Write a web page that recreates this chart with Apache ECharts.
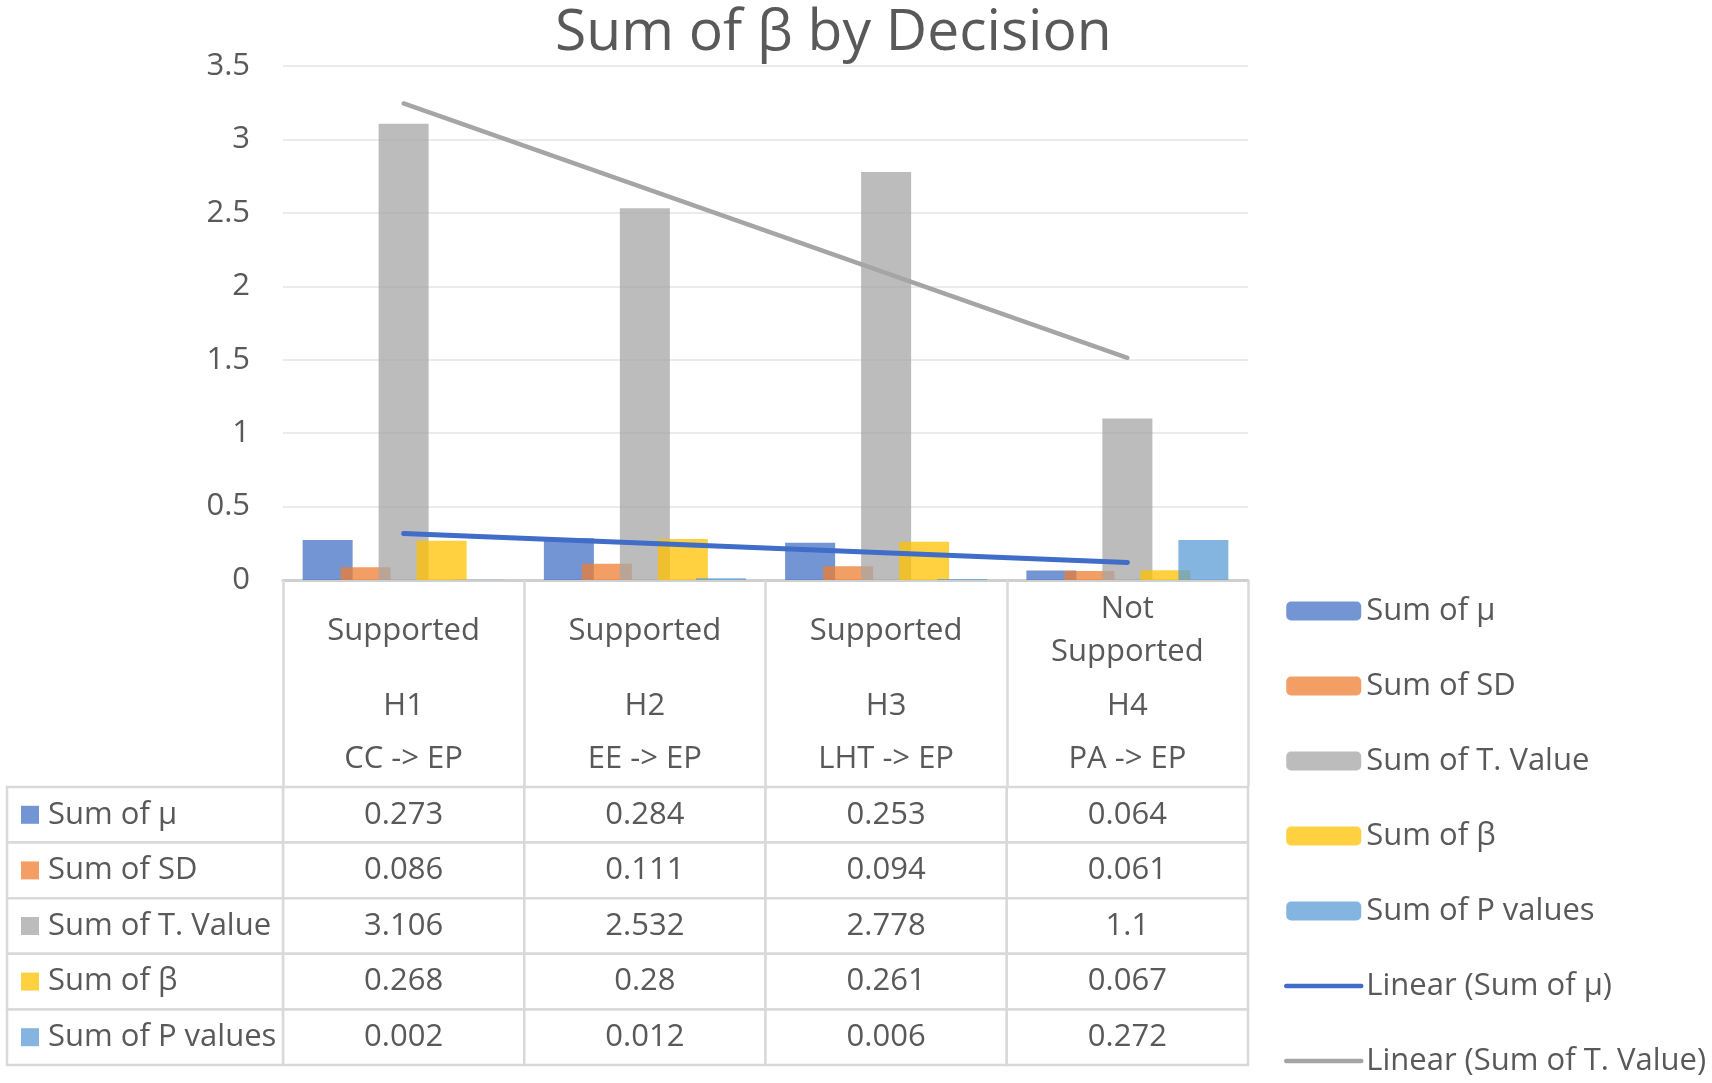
<!DOCTYPE html>
<html>
<head>
<meta charset="utf-8">
<script src="https://cdn.jsdelivr.net/npm/echarts@6/dist/echarts.min.js"></script>
<style>
  html, body { margin: 0; padding: 0; background: #fff; }
  #main { width: 1712px; height: 1083px; }
</style>
</head>
<body>
<div id="main"></div>
<script>
  // data
  var categories = ["H1", "H2", "H3", "H4"];
  var decisions = ["Supported", "Supported", "Supported", "Not Supported"];
  var paths = ["CC -> EP", "EE -> EP", "LHT -> EP", "PA -> EP"];
  var sumMu = [0.273, 0.284, 0.253, 0.064];
  var sumSD = [0.086, 0.111, 0.094, 0.061];
  var sumT = [3.106, 2.532, 2.778, 1.1];
  var sumBeta = [0.268, 0.28, 0.261, 0.067];
  var sumP = [0.002, 0.012, 0.006, 0.272];
  // trendline end points (Excel linear trendlines)
  var trendMu = [0.317, null, null, 0.12];
  var trendT = [3.245, null, null, 1.513];
  var seriesNames = ["Sum of μ", "Sum of SD", "Sum of T. Value", "Sum of β", "Sum of P values"];
  var trendNames = ["Linear (Sum of μ)", "Linear (Sum of T. Value)"];
  var colors = ["#4472C4", "#ED7D31", "#A5A5A5", "#FFC000", "#5B9BD5"];
  var lightColors = ["#7395D3", "#F29E64", "#BCBCBC", "#FFD040", "#84B4DF"];
  var trendColors = ["#3F6DC7", "#A5A5A5"];

  var FONT = "Open Sans";
  var FS = 31;
  var TXT = "#595959";
  var LINE = "#d9d9d9";

  var myChart = echarts.init(document.getElementById("main"));

  var allValues = [sumMu, sumSD, sumT, sumBeta, sumP];
  var cellData = [];
  allValues.forEach(function (arr, r) {
    arr.forEach(function (v, c) {
      cellData.push([c, r, v]);
    });
  });
  var labelData = seriesNames.map(function (n, r) {
    return [0, r];
  });

  function headerLabel(value, idx) {
    var d = decisions[idx];
    var top;
    if (d.length > 10) {
      top = d.split(" ").map(function (w) { return "{d2|" + w + "}"; }).join("\n");
    } else {
      top = "{d1|" + d + "}";
    }
    return top + "\n{h|" + value + "}\n{p|" + paths[idx] + "}";
  }

  var barSeries = seriesNames.map(function (name, i) {
    return {
      name: name,
      type: "bar",
      xAxisIndex: 0,
      yAxisIndex: 0,
      data: allValues[i],
      barWidth: 50,
      barGap: "-24%",
      itemStyle: { color: colors[i], opacity: 0.75 },
    };
  });

  var richBase = { fontSize: FS, color: TXT, fontFamily: FONT };

  var option = {
    backgroundColor: "#fff",
    animation: false,
    textStyle: { fontFamily: FONT },
    title: {
      text: "Sum of β by Decision",
      left: 550,
      top: 0,
      textStyle: { fontFamily: FONT, fontSize: 57, fontWeight: "normal", color: TXT },
    },
    legend: {
      orient: "vertical",
      left: 1284,
      top: 595,
      height: 488,
      padding: 0,
      itemWidth: 75,
      itemHeight: 19,
      itemGap: 43,
      data: seriesNames.concat(trendNames.map(function (n, i) {
        return {
          name: n,
          itemStyle: { opacity: 0 },
          lineStyle: { width: 4.5, color: trendColors[i], cap: "round" },
        };
      })),
      textStyle: { fontFamily: FONT, fontSize: FS, color: TXT, lineHeight: 32 },
    },
    grid: [
      { left: 283, right: 464, top: 66, bottom: 503, outerBoundsMode: "none" },
      { left: 283, right: 464, top: 787, bottom: 18, outerBoundsMode: "none" },
      { left: 7, width: 276, top: 787, bottom: 18, outerBoundsMode: "none" },
    ],
    xAxis: [
      {
        type: "category",
        gridIndex: 0,
        data: categories,
        axisLine: { lineStyle: { color: "#cfcfcf", width: 3 } },
        axisTick: { show: true, interval: 0, length: 206, lineStyle: { color: LINE, width: 2.5 } },
        axisLabel: {
          interval: 0,
          margin: 8,
          formatter: headerLabel,
          color: TXT,
          fontFamily: FONT,
          fontSize: FS,
          rich: {
            d1: Object.assign({ lineHeight: 86 }, richBase),
            d2: Object.assign({ lineHeight: 43 }, richBase),
            h: Object.assign({ lineHeight: 65 }, richBase),
            p: Object.assign({ lineHeight: 41 }, richBase),
          },
        },
      },
      { type: "category", gridIndex: 1, data: categories, show: false },
      { type: "category", gridIndex: 2, data: ["label"], show: false },
    ],
    yAxis: [
      {
        type: "value",
        gridIndex: 0,
        min: 0,
        max: 3.5,
        interval: 0.5,
        axisLine: { show: false },
        axisTick: { show: false },
        splitLine: { lineStyle: { color: "#ebebeb", width: 2 } },
        axisLabel: { color: TXT, fontFamily: FONT, fontSize: FS, margin: 33 },
      },
      { type: "category", gridIndex: 1, data: seriesNames, inverse: true, show: false },
      { type: "category", gridIndex: 2, data: seriesNames, inverse: true, show: false },
    ],
    series: barSeries.concat([
      {
        name: trendNames[0],
        type: "line",
        xAxisIndex: 0,
        yAxisIndex: 0,
        data: trendMu,
        connectNulls: true,
        symbol: "none",
        lineStyle: { color: trendColors[0], width: 5, cap: "round" },
        itemStyle: { color: trendColors[0] },
        z: 5,
      },
      {
        name: trendNames[1],
        type: "line",
        xAxisIndex: 0,
        yAxisIndex: 0,
        data: trendT,
        connectNulls: true,
        symbol: "none",
        lineStyle: { color: trendColors[1], width: 4.5, cap: "round" },
        itemStyle: { color: trendColors[1] },
        z: 5,
      },
      {
        // value cells of the data table
        name: "cells",
        type: "custom",
        xAxisIndex: 1,
        yAxisIndex: 1,
        data: cellData,
        renderItem: function (params, api) {
          var p = api.coord([api.value(0), api.value(1)]);
          var s = api.size([1, 1]);
          return {
            type: "group",
            children: [
              {
                type: "rect",
                shape: { x: p[0] - s[0] / 2, y: p[1] - s[1] / 2, width: s[0], height: s[1] },
                style: { fill: "#fff", stroke: LINE, lineWidth: 2.5 },
              },
              {
                type: "text",
                x: p[0],
                y: p[1],
                style: {
                  text: String(api.value(2)),
                  align: "center",
                  verticalAlign: "middle",
                  fill: TXT,
                  font: FS + "px '" + FONT + "'",
                },
              },
            ],
          };
        },
      },
      {
        // row label cells of the data table
        name: "rowLabels",
        type: "custom",
        xAxisIndex: 2,
        yAxisIndex: 2,
        data: labelData,
        renderItem: function (params, api) {
          var r = api.value(1);
          var p = api.coord([0, r]);
          var s = api.size([1, 1]);
          var x0 = p[0] - s[0] / 2;
          return {
            type: "group",
            children: [
              {
                type: "rect",
                shape: { x: x0, y: p[1] - s[1] / 2, width: s[0], height: s[1] },
                style: { fill: "#fff", stroke: LINE, lineWidth: 2.5 },
              },
              {
                type: "rect",
                shape: { x: x0 + 14, y: p[1] - 9, width: 18, height: 18 },
                style: { fill: lightColors[r] },
              },
              {
                type: "text",
                x: x0 + 41,
                y: p[1],
                style: {
                  text: seriesNames[r],
                  align: "left",
                  verticalAlign: "middle",
                  fill: TXT,
                  font: FS + "px '" + FONT + "'",
                },
              },
            ],
          };
        },
      },
    ]),
  };

  myChart.setOption(option);
</script>
</body>
</html>
